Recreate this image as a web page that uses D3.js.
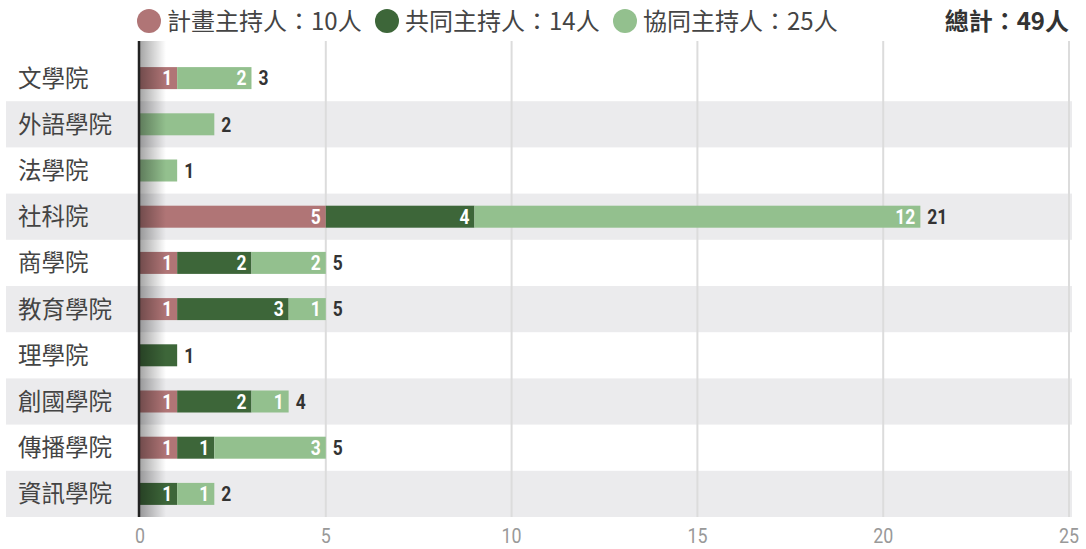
<!DOCTYPE html>
<html>
<head>
<meta charset="utf-8">
<script src="https://cdn.jsdelivr.net/npm/d3@7"></script>
<style>
  body { margin: 0; background: #fff; }
  svg { display: block; font-family: "Noto Sans CJK TC", "Noto Sans", sans-serif; }
  .num { font-family: Roboto, "Noto Sans", sans-serif; }
</style>
</head>
<body>
<svg id="chart"></svg>
<script>
// Data
const colleges = ["文學院", "外語學院", "法學院", "社科院", "商學院", "教育學院", "理學院", "創國學院", "傳播學院", "資訊學院"];
const seriesNames = ["計畫主持人", "共同主持人", "協同主持人"];
const leadPI = [1, 0, 0, 5, 1, 1, 0, 1, 1, 0];
const coPI = [0, 0, 0, 4, 2, 3, 1, 2, 1, 1];
const collabPI = [2, 2, 1, 12, 2, 1, 0, 1, 3, 1];
const xTicks = [0, 5, 10, 15, 20, 25];
const colors = ["#b07576", "#3d6639", "#93c08e"];

const svgWidth = 1086;
const svgHeight = 549;
const margin = { top: 55, right: 17, bottom: 32, left: 140 };
const squeeze = 0.85; // condensed look for numbers

const svg = d3.select("#chart")
    .attr("width", svgWidth)
    .attr("height", svgHeight);

const rows = colleges.map((c, i) => ({
    name: c,
    values: [leadPI[i], coPI[i], collabPI[i]]
}));
rows.forEach(r => { r.total = d3.sum(r.values); });

const x = d3.scaleLinear()
    .domain([0, 25])
    .range([margin.left, svgWidth - margin.right]);

const y = d3.scaleBand()
    .domain(colleges)
    .range([margin.top, svgHeight - margin.bottom])
    .padding(0);

const barH = 22;
const midY = name => y(name) + y.bandwidth() / 2;

// Alternating row bands
svg.append("g").selectAll("rect")
    .data(rows.filter((d, i) => i % 2 === 1))
    .join("rect")
    .attr("x", 6)
    .attr("width", svgWidth - 6 - 14)
    .attr("y", d => y(d.name))
    .attr("height", y.bandwidth())
    .attr("fill", "#ebebed");

// Gridlines
svg.append("g").selectAll("line")
    .data(xTicks.filter(t => t > 0))
    .join("line")
    .attr("x1", d => x(d)).attr("x2", d => x(d))
    .attr("y1", margin.top - 14).attr("y2", svgHeight - margin.bottom)
    .attr("stroke", "#dcdcdc")
    .attr("stroke-width", 2);

// Axis labels
svg.append("g").selectAll("text")
    .data(xTicks)
    .join("text")
    .attr("class", "num")
    .attr("transform", d => `translate(${x(d)},543) scale(${squeeze},1)`)
    .attr("text-anchor", "middle")
    .attr("font-size", 21)
    .attr("fill", "#999")
    .text(d => d);

// Row labels
svg.append("g").selectAll("text")
    .data(rows)
    .join("text")
    .attr("x", 18)
    .attr("y", d => midY(d.name))
    .attr("dy", "0.36em")
    .attr("font-size", 23.5)
    .attr("fill", "#444")
    .text(d => d.name);

// Stacked segments
const segs = [];
rows.forEach(r => {
    let acc = 0;
    const nonzero = r.values.filter(v => v > 0).length;
    r.values.forEach((v, k) => {
        if (v > 0) segs.push({ name: r.name, k, v, x0: acc, x1: acc + v, showLabel: nonzero > 1 });
        acc += v;
    });
});

const bars = svg.append("g");
bars.selectAll("rect")
    .data(segs)
    .join("rect")
    .attr("x", d => x(d.x0))
    .attr("width", d => x(d.x1) - x(d.x0))
    .attr("y", d => y(d.name) + (y.bandwidth() - barH) / 2)
    .attr("height", barH)
    .attr("fill", d => colors[d.k]);

bars.selectAll("text")
    .data(segs.filter(d => d.showLabel))
    .join("text")
    .attr("class", "num")
    .attr("transform", d => `translate(${x(d.x1) - 5},${midY(d.name)}) scale(${squeeze},1)`)
    .attr("dy", "0.36em")
    .attr("text-anchor", "end")
    .attr("font-size", 20.5)
    .attr("font-weight", "bold")
    .attr("fill", "#fff")
    .text(d => d.v);

// Totals
svg.append("g").selectAll("text")
    .data(rows)
    .join("text")
    .attr("class", "num")
    .attr("transform", d => `translate(${x(d.total) + 7},${midY(d.name)}) scale(${squeeze},1)`)
    .attr("dy", "0.36em")
    .attr("font-size", 20.5)
    .attr("font-weight", "bold")
    .attr("fill", "#333")
    .text(d => d.total);

// Zero line shadow
const defs = svg.append("defs");
const grad = defs.append("linearGradient").attr("id", "shade");
grad.append("stop").attr("offset", "0%").attr("stop-color", "#000").attr("stop-opacity", 0.35);
grad.append("stop").attr("offset", "100%").attr("stop-color", "#000").attr("stop-opacity", 0);
svg.append("rect")
    .attr("x", x(0))
    .attr("y", margin.top - 14)
    .attr("width", 26)
    .attr("height", svgHeight - margin.bottom - margin.top + 14)
    .attr("fill", "url(#shade)");
svg.append("line")
    .attr("x1", x(0) - 1).attr("x2", x(0) - 1)
    .attr("y1", margin.top - 14).attr("y2", svgHeight - margin.bottom)
    .attr("stroke", "#222")
    .attr("stroke-width", 2.5);

// Legend
const totals = [d3.sum(leadPI), d3.sum(coPI), d3.sum(collabPI)];
const legendX = [149, 387, 625];
const legend = svg.append("g");
seriesNames.forEach((s, k) => {
    legend.append("circle")
        .attr("cx", legendX[k])
        .attr("cy", 21)
        .attr("r", 12)
        .attr("fill", colors[k]);
    legend.append("text")
        .attr("x", legendX[k] + 18)
        .attr("y", 21)
        .attr("dy", "0.36em")
        .attr("font-size", 24)
        .attr("fill", "#444")
        .text(`${s}：${totals[k]}人`);
});
legend.append("text")
    .attr("x", 1069)
    .attr("y", 21)
    .attr("dy", "0.36em")
    .attr("text-anchor", "end")
    .attr("font-size", 24)
    .attr("font-weight", "bold")
    .attr("fill", "#333")
    .text(`總計：${d3.sum(totals)}人`);
</script>
</body>
</html>
